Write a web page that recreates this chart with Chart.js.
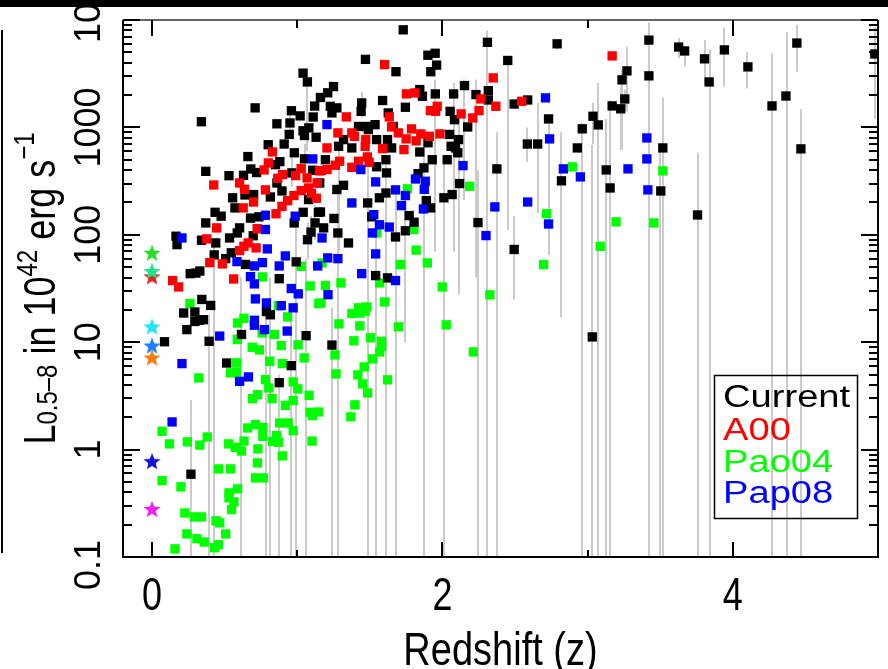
<!DOCTYPE html>
<html>
<head>
<meta charset="utf-8">
<script src="https://cdn.jsdelivr.net/npm/chart.js@4.4.0/dist/chart.umd.min.js"></script>
<style>
html,body{margin:0;padding:0;background:#fff;overflow:hidden}
canvas{display:block}
</style>
</head>
<body>
<canvas id="c" width="888" height="669" style="width:888px;height:669px"></canvas>
<script>
// ---------------- data ----------------
const seriesNames = ['Current', 'A00', 'Pao04', 'Pap08'];

// [redshift z, L(0.5-8 keV) in 1e42 erg/s]
const currentData = [
[1.73,8100],[2.31,6200],[2.79,6000],[1.47,4300],[1.90,4700],[1.95,4900],[1.96,3800],[1.92,3300],[1.68,3300],[2.45,4200],
[1.04,3200],[1.07,2650],[1.25,2400],[1.21,2100],[1.16,1900],[1.12,1580],[0.71,1520],[0.34,1130],[0.96,1430],[1.02,1280],
[1.11,1250],[0.86,1080],[0.95,1100],[1.04,930],[1.08,990],[1.05,840],[1.13,810],[0.945,860],[0.91,700],[0.80,690],
[0.98,580],[1.05,510],[0.66,535],[0.88,480],[0.68,410],[0.72,380],[0.85,450],[0.37,390],[0.53,355],[0.63,358],
[0.64,235],[0.815,225],[0.70,237],[0.895,256],[0.86,304],[0.963,377],[1.107,399],[1.078,213],[0.555,221],[0.571,178],
[0.434,162],[0.476,149],[1.041,162],[1.146,162],[0.678,143],[0.736,147],[0.37,129],[0.603,116],[0.587,104],[0.534,93.5],
[0.697,98],[0.165,97],[0.172,81],[0.341,89],[0.439,84],[0.546,68],[0.428,65],[0.507,60],[0.644,53],[0.993,56],
[1.071,90],[1.095,106],[1.123,129],[0.979,129],[0.329,46],[0.263,43.5],[0.302,44],[0.876,39],[0.343,25],[0.404,22],
[0.218,18.7],[0.295,19.1],[0.788,19.3],[0.815,18],[0.295,15.6],[0.354,16.2],[0.325,16],[0.24,13.1],[0.616,11.8],[1.061,11.5],
[0.393,10.2],[0.086,10.1],[0.959,6.05],[0.514,6.4],[0.876,4.2],[0.268,0.59],
[2.152,2450],[1.844,2250],[1.951,2050],[2.077,2050],[2.231,2020],[2.316,2200],[2.316,1800],[2.494,1650],[1.862,1950],[1.588,1780],
[1.444,1690],[1.228,1570],[1.273,1520],[1.44,1410],[1.745,1540],[2.053,1410],[2.083,1180],[2.174,1010],[1.239,1365],[1.627,1365],
[1.479,1020],[1.536,1060],[1.422,1020],[1.661,1020],[2.049,860],[2.111,770],[1.901,720],[2.06,667],[2.09,644],[2.106,580],
[1.65,644],[1.376,644],[1.319,770],[1.285,667],[1.844,590],[1.622,770],[1.547,770],[1.49,954],[1.194,500],[1.611,500],
[1.547,430],[1.615,377],[1.93,500],[2.033,500],[1.873,420],[2.375,411],[2.118,300],[1.832,371],[1.611,245],[1.566,221],
[1.485,198],[1.273,264],[1.319,289],[1.155,304],[1.889,208],[1.919,178],[2.01,221],[2.067,237],[1.16,163],[1.253,142],
[1.513,147],[1.771,151],[1.805,131],[1.745,109],[2.245,130],[1.182,116],[1.28,104],[1.677,95.5],[1.353,84],[2.494,73],
[2.587,1800],[2.585,700],[2.656,700],[2.731,1200],[2.963,970],[3.037,1270],[2.929,644],[2.82,318],[1.54,41.7],[1.622,39.7],
[1.239,9.4],[3.032,11.2],[3.422,6500],[3.627,5600],[3.668,5150],[3.805,4350],[3.942,5270],[3.837,2650],[4.104,3660],[4.441,6100],
[4.978,4830],[3.271,3360],[3.237,2770],[3.422,3020],[3.256,1840],[3.169,1585],[3.228,1490],[3.073,1055],[4.27,1585],[4.366,1960],
[4.469,631],[3.518,644],[3.128,402],[3.155,273],[3.504,256],[3.757,153]
];

// error ranges of the "Current" sample: [z, low L, high L]
const currentErr = [
[2.31,0.05,8000],[2.79,5300,6600],[3.42,3000,9500],[3.42,0.05,3000],[3.63,4400,6800],[3.67,3700,5600],[3.81,2500,6500],
[3.94,2400,8500],[3.84,0.05,5300],[4.10,2300,5000],[4.44,3300,9000],[4.98,1200,8600],[3.27,1400,5600],[3.24,620,3450],
[3.26,1450,2250],[3.23,620,2400],[3.07,0.05,2600],[4.27,0.05,4900],[4.37,0.05,7700],[4.47,0.05,1480],[3.52,0.05,1900],
[3.50,0.05,700],[3.76,0.05,580],[3.13,0.05,1200],[3.155,0.05,1800],[3.04,700,1700],[3.03,0.05,690],[2.96,0.05,1100],
[2.82,17,900],[2.585,480,1000],[2.656,160,1700],[2.494,25,150],[2.375,0.05,900],[2.245,0.05,400],[2.111,28,1300],
[2.01,0.05,500],[1.873,0.05,900],[1.745,10,300],[1.677,0.05,250],[1.611,0.05,500],[1.54,0.05,120],[1.485,0.05,600],
[1.28,0.05,300],[1.239,0.05,21],[1.061,0.05,60],[0.959,0.05,20],[0.993,0.05,150],[0.876,0.05,5],[0.788,0.05,25],
[0.815,0.05,40],[0.616,0.05,40],[0.393,0.05,18],[0.268,0.05,2.9],[0.428,0.05,90],[1.444,1250,2150],[1.951,70,2800],
[2.077,70,2600],[2.152,210,2800],[2.231,40,2800],[2.731,65,1300],[1.285,70,700],[1.068,600,2700],[2.45,110,4500],
[0.948,800,1400],[1.052,380,700],[0.963,280,520],[1.123,90,190],[1.071,60,130],[1.095,80,150]
];

const a00Data = [
[0.829,591],[0.801,467],[0.772,402],[0.425,291],[0.603,304],[0.637,265],[0.781,262],[0.866,336],[0.9,364],[0.989,356],
[1.027,413],[1.068,339],[1.153,394],[1.137,304],[1.078,273],[1.027,258],[0.977,232],[0.934,208],[0.895,184],[0.854,157],
[1.098,243],[1.132,219],[0.699,202],[0.628,178],[0.445,116],[0.724,114],[0.377,91.6],[0.662,84],[0.633,78.2],[0.603,71.3],
[0.717,75.5],[0.398,55.1],[0.484,53.6],[0.142,37.5],[0.183,32.7],[0.562,38.8],
[1.602,3845],[2.35,2890],[2.265,1842],[2.368,1572],[2.252,1433],[2.209,1225],[1.752,2051],[1.81,2095],[1.964,1572],[1.917,1433],
[1.953,1413],[2.129,1336],[1.338,1253],[1.634,1253],[1.65,1011],[1.28,889],[1.376,889],[1.394,826],[1.472,770],[1.696,889],
[1.787,968],[1.851,870],[1.91,826],[1.983,870],[1.75,782],[1.819,749],[1.735,621],[1.588,635],[1.468,667],[1.205,644],
[1.483,531],[1.495,473],[1.422,484],[1.376,425],[1.292,484],[1.262,444],[1.205,405],[1.167,396],[2.546,1750],[3.169,4630]
];

const pao04Data = [
[1.027,50.9],[0.76,40.5],[1.089,33.4],[0.261,22.9],[0.87,21.9],[1.148,22.9],[0.934,17.2],[0.633,16.7],[0.589,15.1],[0.587,10.6],
[0.758,12.2],[0.842,11.8],[0.69,8.97],[0.74,8.48],[0.89,9.3],[1.006,9.44],[1.048,7.14],[0.811,6.64],[0.897,6.32],[0.582,6.42],
[0.541,5.18],[0.58,5.25],[0.322,4.65],[0.781,4.49],[0.804,3.75],[0.972,4.27],[1.004,3.67],[1.082,3.2],[0.727,3.25],[0.693,2.98],
[0.827,2.98],[0.972,2.86],[0.918,2.58],[1.089,2.22],[1.105,2.07],[1.146,2.24],[0.069,1.48],[0.12,1.13],[0.243,1.18],[0.329,1.1],
[0.38,1.31],[0.658,1.59],[0.712,1.71],[0.763,1.61],[0.763,1.33],[0.856,1.35],[0.831,1.19],[0.87,1.17],[0.879,1.77],[0.938,1.77],
[0.972,1.5],[1.102,1.2],[0.633,1.2],[0.528,1.13],[0.573,1.05],[0.616,0.97],[0.729,1.015],[0.897,0.874],[0.726,0.752],[0.459,0.661],
[0.541,0.661],[0.712,0.545],[0.767,0.545],[0.069,0.514],[0.199,0.45],[0.589,0.431],[0.53,0.395],[0.53,0.355],[0.564,0.326],[0.548,0.276],
[0.226,0.257],[0.291,0.236],[0.341,0.236],[0.441,0.217],[0.466,0.208],[0.24,0.164],[0.309,0.148],[0.359,0.138],[0.507,0.164],[0.457,0.13],
[0.43,0.122],[0.158,0.119],
[1.171,54.7],[1.711,52.8],[1.896,54.7],[2.697,52.8],[1.194,33.7],[1.301,35.7],[1.568,35.7],[1.999,32.7],[2.327,27.6],[1.164,23.2],
[1.602,23.7],[1.422,20.9],[1.479,21.3],[1.376,18.5],[1.433,18.7],[1.468,19.4],[1.287,14.8],[1.431,14.2],[1.698,13.9],[2.026,14.5],
[1.39,10.3],[1.506,11.0],[1.581,10.2],[1.581,9.16],[1.568,8.12],[2.213,8.12],[1.26,7.62],[1.52,6.99],[1.461,5.89],[1.267,5.07],
[1.417,4.96],[1.622,4.46],[1.451,4.09],[1.485,3.37],[1.397,2.61],[1.369,2.02],
[2.188,283],[1.759,268],[1.803,112],[1.547,104],[1.819,72],[2.895,429],[2.717,157],[3.518,394],[3.196,132],[3.456,129],[3.087,78]
];

const pap08Data = [
[1.107,509],[0.781,152],[0.986,149],[0.781,112],[0.206,93.5],[0.794,73.9],[0.585,56.3],[0.705,51.3],[0.76,55.1],[0.876,51.3],
[0.918,63.6],[1.141,51.3],[0.678,40.8],[0.705,34.9],[0.959,31.6],[1.007,28.2],[0.712,25.3],[0.788,23.2],[0.89,21.9],[0.972,20.9],
[0.705,16],[0.705,14.4],[0.774,13.1],[0.931,12.7],[0.466,11.4],[0.206,6.32],[0.603,4.32],[0.664,4.75],[0.138,1.81],
[1.205,1062],[1.438,405],[2.142,441],[1.814,331],[1.882,315],[1.875,265],[1.54,311],[1.677,262],[1.376,198],[1.745,232],
[1.718,187],[1.869,174],[2.361,182],[1.527,154],[1.566,124],[1.634,118],[2.3,98.3],[1.518,104],[1.171,93.5],[1.54,66.4],
[1.21,60.9],[1.28,60],[1.444,43.5],[1.677,37.5],[1.212,27.7],
[2.71,1883],[2.738,782],[2.833,411],[2.95,346],[2.587,202],[2.731,126],[3.408,798],[3.408,509],[3.278,411],[3.415,262]
];

// local (z ~ 0) objects drawn as stars
const starZ = [0, 0, 0, 0, 0, 0, 0, 0];
const starL = [68, 41, 46, 14, 9.3, 7.2, 0.78, 0.28];

// axes
const xTickValues = [0, 2, 4];
const xTickLabels = ['0', '2', '4'];
const xMinorTickValues = [1, 3];
const yTickValues = [0.1, 1, 10, 100, 1000, 10000];
const yTickLabels = ['0.1', '1', '10', '100', '1000', '10000'];
const xTitle = 'Redshift (z)';

// ---------------- styles ----------------
const seriesColors = ['#000000', '#ff0000', '#00ff00', '#0000ff'];
const starColors = ['#2bdc2b', '#e82020', '#26e08c', '#22e4ff', '#1f80ff', '#f57c14', '#1212dc', '#f020f0'];
const FONT = '"Liberation Sans", Arial, Helvetica, sans-serif';

function makeStar(color) {
  const s = 22, c = document.createElement('canvas');
  c.width = s; c.height = s;
  const g = c.getContext('2d');
  const R = 9, r = 3.9, cx = s / 2, cy = s / 2 + 0.8;
  g.beginPath();
  for (let i = 0; i < 10; i++) {
    const ang = -Math.PI / 2 + i * Math.PI / 5;
    const rad = i % 2 === 0 ? R : r;
    const px = cx + rad * Math.cos(ang), py = cy + rad * Math.sin(ang);
    if (i === 0) g.moveTo(px, py); else g.lineTo(px, py);
  }
  g.closePath();
  g.fillStyle = color;
  g.fill();
  return c;
}

const toXY = arr => arr.map(p => ({x: p[0], y: p[1]}));
const SQ = 6.6;

const yMinorTickValues = [];
for (let e = -1; e < 4; e++) for (let m = 2; m <= 9; m++) yMinorTickValues.push(m * Math.pow(10, e));

const decorPlugin = {
  id: 'decor',
  beforeDatasetsDraw(chart) {
    const {ctx, chartArea: a, scales: {x, y}} = chart;
    ctx.save();
    ctx.beginPath();
    ctx.rect(a.left, a.top, a.right - a.left, a.bottom - a.top);
    ctx.clip();
    ctx.strokeStyle = '#cbcbcb';
    ctx.lineWidth = 2;
    for (const [z, lo, hi] of currentErr) {
      const px = Math.round(x.getPixelForValue(z));
      ctx.beginPath();
      ctx.moveTo(px, y.getPixelForValue(lo));
      ctx.lineTo(px, y.getPixelForValue(hi));
      ctx.stroke();
    }
    ctx.restore();
  },
  afterDraw(chart) {
    const {ctx, chartArea: a, scales: {x, y}} = chart;
    const W = chart.width;
    ctx.save();
    // frame
    ctx.strokeStyle = '#000';
    ctx.lineWidth = 2;
    ctx.beginPath();
    ctx.moveTo(a.left, a.top); ctx.lineTo(a.left, a.bottom); ctx.lineTo(a.right, a.bottom); ctx.lineTo(a.right, a.top);
    ctx.stroke();
    ctx.lineWidth = 1.5;
    ctx.strokeStyle = '#333';
    ctx.beginPath(); ctx.moveTo(a.left, a.top); ctx.lineTo(a.right, a.top); ctx.stroke();

    // inward ticks
    ctx.strokeStyle = '#000';
    ctx.lineWidth = 2;
    const hl = (x1, y1, x2, y2) => { ctx.beginPath(); ctx.moveTo(x1, y1); ctx.lineTo(x2, y2); ctx.stroke(); };
    for (const v of yTickValues) {
      const py = Math.round(y.getPixelForValue(v));
      hl(a.left, py, a.left + 17, py);
      hl(a.right - 17, py, a.right, py);
    }
    for (const v of yMinorTickValues) {
      const py = Math.round(y.getPixelForValue(v));
      hl(a.left, py, a.left + 9, py);
      hl(a.right - 9, py, a.right, py);
    }
    for (const v of xTickValues) {
      const px = Math.round(x.getPixelForValue(v));
      hl(px, a.bottom, px, a.bottom - 15);
      hl(px, a.top, px, a.top + 16);
    }
    for (const v of xMinorTickValues) {
      const px = Math.round(x.getPixelForValue(v));
      hl(px, a.bottom, px, a.bottom - 7);
      hl(px, a.top, px, a.top + 8);
    }

    // y tick labels (rotated)
    ctx.fillStyle = '#000';
    ctx.font = '36px ' + FONT;
    ctx.textBaseline = 'alphabetic';
    yTickValues.forEach((v, i) => {
      const py = y.getPixelForValue(v);
      const lab = yTickLabels[i];
      ctx.save();
      ctx.translate(99.5, py);
      ctx.rotate(-Math.PI / 2);
      const w = ctx.measureText(lab).width;
      let start = -w / 2;
      if (i === yTickValues.length - 1) start = -23;      // top label sits lower
      if (i === 0) start = -w / 2 - 8;                       // bottom label sits lower
      ctx.textAlign = 'left';
      ctx.fillText(lab, start, 0);
      ctx.restore();
    });

    // x tick labels (tall glyphs as in the reference)
    ctx.textAlign = 'center';
    ctx.font = '36px ' + FONT;
    xTickValues.forEach((v, i) => {
      ctx.save();
      ctx.translate(x.getPixelForValue(v), 610);
      ctx.scale(1, 1.3);
      ctx.fillText(xTickLabels[i], 0, 0);
      ctx.restore();
    });

    // x title
    ctx.save();
    ctx.font = '38px ' + FONT;
    ctx.translate((a.left + a.right) / 2, 665);
    ctx.scale(1, 1.2);
    ctx.fillText(xTitle, 0, 0);
    ctx.restore();

    // y title with sub/superscripts
    const segs = [
      {t: 'L', s: 36, d: 0},
      {t: '0.5\u20138', s: 24, d: 2},
      {t: ' in 10', s: 36, d: 0},
      {t: '42', s: 24, d: -15},
      {t: ' erg s', s: 36, d: 0},
      {t: '\u22121', s: 24, d: -17}
    ];
    let total = 0;
    for (const sg of segs) { ctx.font = sg.s + 'px ' + FONT; sg.w = ctx.measureText(sg.t).width; total += sg.w; }
    ctx.save();
    ctx.translate(55, (a.top + a.bottom) / 2);
    ctx.rotate(-Math.PI / 2);
    ctx.scale(1, 1.22);
    ctx.textAlign = 'left';
    let cx = -total / 2;
    for (const sg of segs) {
      ctx.font = sg.s + 'px ' + FONT;
      ctx.fillText(sg.t, cx, sg.d);
      cx += sg.w;
    }
    ctx.restore();

    // legend (text only, coloured like the series)
    ctx.lineWidth = 1.5;
    ctx.strokeStyle = '#000';
    ctx.strokeRect(714.5, 375.5, 143, 143);
    ctx.font = '31px ' + FONT;
    ctx.textAlign = 'left';
    const base = [407, 440, 472, 503];
    seriesNames.forEach((n, i) => {
      ctx.save();
      ctx.translate(723, base[i]);
      ctx.scale(1.23, 1);
      ctx.fillStyle = seriesColors[i];
      ctx.fillText(n, 0, 0);
      ctx.restore();
    });

    // cropped neighbouring-panel remnants
    ctx.fillStyle = '#000';
    ctx.fillRect(0, 0, W, 7);
    ctx.lineWidth = 2;
    hl(2, 30, 2, 553);
    ctx.restore();
  }
};

new Chart(document.getElementById('c'), {
  type: 'scatter',
  data: {
    datasets: [
      {label: 'stars', data: starZ.map((z, i) => ({x: z, y: starL[i]})), pointStyle: starColors.map(makeStar),
       pointRadius: 9, order: 0},
      {label: seriesNames[3], data: toXY(pap08Data), backgroundColor: seriesColors[3], borderWidth: 0,
       pointStyle: 'rect', pointRadius: SQ, order: 1},
      {label: seriesNames[1], data: toXY(a00Data), backgroundColor: seriesColors[1], borderWidth: 0,
       pointStyle: 'rect', pointRadius: SQ, order: 2},
      {label: seriesNames[0], data: toXY(currentData), backgroundColor: seriesColors[0], borderWidth: 0,
       pointStyle: 'rect', pointRadius: SQ, order: 3},
      {label: seriesNames[2], data: toXY(pao04Data), backgroundColor: seriesColors[2], borderWidth: 0,
       pointStyle: 'rect', pointRadius: SQ, order: 4}
    ]
  },
  options: {
    responsive: false,
    animation: false,
    devicePixelRatio: 1,
    events: [],
    layout: {padding: {left: 123, right: 5, top: 20, bottom: 112}},
    plugins: {legend: {display: false}, tooltip: {enabled: false}},
    scales: {
      x: {type: 'linear', min: -0.2, max: 5, display: false},
      y: {type: 'logarithmic', min: 0.1, max: 10000, display: false}
    }
  },
  plugins: [decorPlugin]
});
</script>
</body>
</html>
